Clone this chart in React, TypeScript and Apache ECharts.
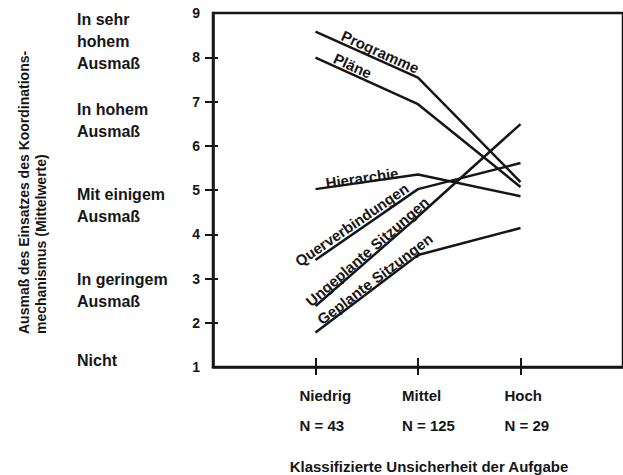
import React, { useEffect, useRef } from "react";
import * as echarts from "echarts";

const categories = ["Niedrig", "Mittel", "Hoch"];
const sampleSizes = ["N = 43", "N = 125", "N = 29"];
const categoryPositions = [1, 2, 3];

const seriesNames = [
  "Programme",
  "Pläne",
  "Hierarchie",
  "Querverbindungen",
  "Ungeplante Sitzungen",
  "Geplante Sitzungen",
];
const programme = [8.58, 7.54, 5.18];
const plaene = [7.99, 6.94, 5.07];
const hierarchie = [5.02, 5.35, 4.86];
const querverbindungen = [3.42, 5.02, 5.61];
const ungeplanteSitzungen = [2.38, 4.4, 6.49];
const geplanteSitzungen = [1.78, 3.53, 4.14];
const seriesValues = [programme, plaene, hierarchie, querverbindungen, ungeplanteSitzungen, geplanteSitzungen];

const yTickValues = [2, 3, 4, 5, 6, 7, 8];
const levelLabels = ["In sehr\nhohem\nAusmaß", "In hohem\nAusmaß", "Mit einigem\nAusmaß", "In geringem\nAusmaß", "Nicht"];
const levelLabelTops = [8, 98, 183, 268, 349];

const yTitle = "Ausmaß des Einsatzes des Koordinations-\nmechanismus (Mittelwerte)";
const xTitle = "Klassifizierte Unsicherheit der Aufgabe";

// label placement along first segment (fraction t, perpendicular distance d)
const labelPlacement = [
  { t: 0.6, d: 8 },
  { t: 0.33, d: 8 },
  { t: 0.46, d: 4.5 },
  { t: 0.4, d: 8.5 },
  { t: 0.55, d: 7 },
  { t: 0.62, d: 7 },
];

const INK = "#161616";
const FONT = '"Liberation Sans", Arial, sans-serif';

export default function App() {
  const ref = useRef<HTMLDivElement>(null);

  useEffect(() => {
    if (!ref.current) return;
    const chart = echarts.init(ref.current, null, { renderer: "svg" });

    const baseGraphic: any[] = [];
    levelLabels.forEach((txt, i) => {
      baseGraphic.push({
        type: "text",
        x: 77,
        y: levelLabelTops[i],
        style: {
          text: txt,
          fill: INK,
          fontSize: 16,
          fontWeight: "bold",
          fontFamily: FONT,
          align: "left",
          verticalAlign: "top",
          lineHeight: 22,
        },
      });
    });
    baseGraphic.push({
      type: "text",
      x: 32,
      y: 334,
      rotation: Math.PI / 2,
      style: {
        text: yTitle,
        fill: INK,
        fontSize: 14,
        fontWeight: "bold",
        fontFamily: FONT,
        align: "left",
        verticalAlign: "middle",
        lineHeight: 17,
      },
    });
    baseGraphic.push({
      type: "text",
      x: 429,
      y: 466,
      style: {
        text: xTitle,
        fill: INK,
        fontSize: 15,
        fontWeight: "bold",
        fontFamily: FONT,
        align: "center",
        verticalAlign: "middle",
      },
    });

    const labelStyle = {
      fontSize: 15,
      fontWeight: "bold",
      fontFamily: FONT,
      color: INK,
      width: 32,
      align: "left",
      lineHeight: 30,
    };

    const option: any = {
      animation: false,
      backgroundColor: "#ffffff",
      grid: {
        left: 213,
        top: 13,
        width: 412,
        height: 354,
        show: true,
        borderColor: INK,
        borderWidth: 2.5,
        backgroundColor: "transparent",
      },
      xAxis: [
        {
          type: "value",
          min: 0,
          max: 4,
          interval: 1,
          position: "bottom",
          splitLine: { show: false },
          axisLine: { show: true, lineStyle: { color: INK, width: 2.5 } },
          axisTick: {
            show: true,
            customValues: categoryPositions,
            length: 8,
            lineStyle: { color: INK, width: 2 },
          },
          axisLabel: {
            customValues: categoryPositions,
            margin: 13,
            formatter: (v: number) => {
              const i = categoryPositions.indexOf(Math.round(v));
              if (i < 0) return "";
              return `{c|${categories[i]}}\n{c|${sampleSizes[i]}}`;
            },
            rich: { c: labelStyle },
          },
        },
        {
          type: "value",
          min: 0,
          max: 4,
          interval: 1,
          position: "bottom",
          splitLine: { show: false },
          axisLine: { show: false },
          axisTick: {
            show: true,
            inside: true,
            customValues: categoryPositions,
            length: 9,
            lineStyle: { color: INK, width: 2 },
          },
          axisLabel: { show: false },
        },
      ],
      yAxis: [
        {
          type: "value",
          min: 1,
          max: 9,
          interval: 1,
          splitLine: { show: false },
          axisLine: { show: true, lineStyle: { color: INK, width: 2.5 } },
          axisTick: {
            show: true,
            customValues: yTickValues,
            length: 8,
            lineStyle: { color: INK, width: 2 },
          },
          axisLabel: {
            margin: 13,
            fontSize: 14,
            fontWeight: "bold",
            fontFamily: FONT,
            color: INK,
          },
        },
        {
          type: "value",
          min: 1,
          max: 9,
          interval: 1,
          position: "left",
          splitLine: { show: false },
          axisLine: { show: false },
          axisTick: {
            show: true,
            inside: true,
            customValues: yTickValues,
            length: 5,
            lineStyle: { color: INK, width: 2 },
          },
          axisLabel: { show: false },
        },
      ],
      series: seriesNames.map((name, si) => ({
        name,
        type: "line",
        xAxisIndex: 0,
        yAxisIndex: 0,
        symbol: "none",
        silent: true,
        lineStyle: { color: INK, width: 2.5 },
        data: categoryPositions.map((x, i) => [x, seriesValues[si][i]]),
      })),
      graphic: baseGraphic,
    };

    chart.setOption(option);

    const labelGraphic: any[] = seriesNames.map((name, si) => {
      const vals = seriesValues[si];
      const p0 = chart.convertToPixel({ xAxisIndex: 0, yAxisIndex: 0 }, [categoryPositions[0], vals[0]]) as number[];
      const p1 = chart.convertToPixel({ xAxisIndex: 0, yAxisIndex: 0 }, [categoryPositions[1], vals[1]]) as number[];
      const dx = p1[0] - p0[0];
      const dy = p1[1] - p0[1];
      const len = Math.sqrt(dx * dx + dy * dy);
      const ux = dx / len;
      const uy = dy / len;
      const nx = uy;
      const ny = -ux;
      const { t, d } = labelPlacement[si];
      return {
        type: "text",
        x: p0[0] + dx * t + nx * d,
        y: p0[1] + dy * t + ny * d,
        rotation: Math.atan2(-dy, dx),
        style: {
          text: name,
          fill: INK,
          fontSize: 15,
          fontWeight: "bold",
          fontFamily: FONT,
          align: "center",
          verticalAlign: "middle",
        },
      };
    });

    chart.setOption({ graphic: baseGraphic.concat(labelGraphic) });

    return () => chart.dispose();
  }, []);

  return (
    <div
      ref={ref}
      style={{ position: "fixed", left: 0, top: 0, width: 623, height: 475 }}
    />
  );
}
